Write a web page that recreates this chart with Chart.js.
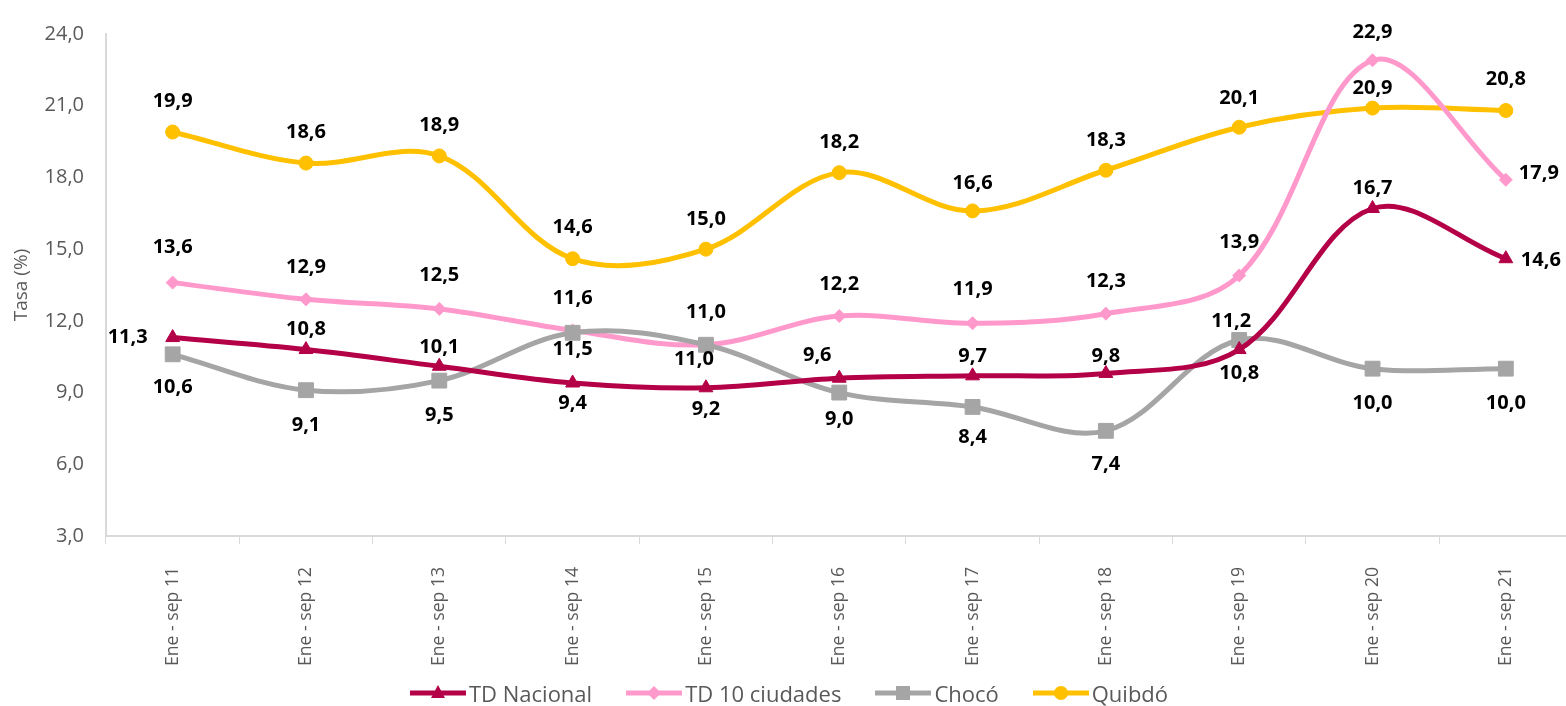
<!DOCTYPE html>
<html lang="es">
<head>
<meta charset="utf-8">
<title>Tasa de desempleo</title>
<script src="https://cdn.jsdelivr.net/npm/chart.js@4.4.1/dist/chart.umd.min.js"></script>
<style>
  html, body { margin: 0; padding: 0; background: #fff; overflow: hidden; }
  #wrap { width: 1584px; height: 706px; position: relative; }
  #legend {
      position: absolute; left: 0; top: 678px; width: 1578px; height: 30px;
      display: flex; justify-content: center; align-items: center; gap: 34px;
      font: 22px 'Open Sans', sans-serif; color: #595959;
  }
  .legend-item { display: flex; align-items: center; white-space: nowrap; }
  .legend-item img { margin-right: 3px; }
</style>
</head>
<body>
<div id="wrap">
    <canvas id="chart"></canvas>
    <div id="legend"></div>
</div>
<script>
// ---- data ----
const categories   = ['Ene - sep 11', 'Ene - sep 12', 'Ene - sep 13', 'Ene - sep 14', 'Ene - sep 15', 'Ene - sep 16',
                      'Ene - sep 17', 'Ene - sep 18', 'Ene - sep 19', 'Ene - sep 20', 'Ene - sep 21'];
const tdNacional   = [11.3, 10.8, 10.1, 9.4, 9.2, 9.6, 9.7, 9.8, 10.8, 16.7, 14.6];
const td10Ciudades = [13.6, 12.9, 12.5, 11.6, 11.0, 12.2, 11.9, 12.3, 13.9, 22.9, 17.9];
const choco        = [10.6, 9.1, 9.5, 11.5, 11.0, 9.0, 8.4, 7.4, 11.2, 10.0, 10.0];
const quibdo       = [19.9, 18.6, 18.9, 14.6, 15.0, 18.2, 16.6, 18.3, 20.1, 20.9, 20.8];
const yMin = 3, yMax = 24, yStep = 3;

// label placement relative to each point [dx, dy] (layout only)
const offNacional = [[-45, 0], [0, -20], [0, -19], [0, 20], [0, 22], [-22, -23], [0, -20], [0, -17], [0, 24], [0, -20], [35, 2]];
const offCiudades = [[0, -35], [0, -32], [0, -34], [0, -32], [0, -32], [0, -32], [0, -34], [0, -32], [0, -33], [0, -28], [33, -7]];
const offChoco    = [[0, 33], [0, 35], [0, 35], [0, 16], [-12, 15], [0, 27], [0, 30], [0, 33], [-8, -19], [0, 35], [0, 35]];
const offQuibdo   = [[0, -31], [0, -31], [0, -31], [0, -31], [0, -30], [0, -30], [0, -28], [0, -30], [0, -29], [0, -20], [0, -31]];

const fmt = v => v.toFixed(1).replace('.', ',');

// little line + marker icon for the legend
function legendIcon(color, shape) {
    const c = document.createElement('canvas');
    c.width = 56; c.height = 20;
    const g = c.getContext('2d');
    g.strokeStyle = color; g.fillStyle = color; g.lineWidth = 5;
    g.beginPath(); g.moveTo(0, 10); g.lineTo(56, 10); g.stroke();
    g.beginPath();
    if (shape === 'triangle') { g.moveTo(28, 2); g.lineTo(35, 15); g.lineTo(21, 15); g.closePath(); }
    else if (shape === 'rectRot') { g.moveTo(28, 3); g.lineTo(35, 10); g.lineTo(28, 17); g.lineTo(21, 10); g.closePath(); }
    else if (shape === 'rect') { g.rect(21, 3, 14, 14); }
    else { g.arc(28, 10, 7, 0, Math.PI * 2); }
    g.fill();
    return c.toDataURL();
}

function series(label, data, color, shape, radius, offsets, order) {
    return {
        label, data, order, offsets,
        borderColor: color, backgroundColor: color,
        borderWidth: 5, tension: 0.35,
        pointStyle: shape, pointRadius: radius, pointHoverRadius: radius,
        pointBackgroundColor: color, pointBorderColor: color, pointBorderWidth: 1,
        clip: false,
    };
}

// data labels
const valueLabels = {
    id: 'valueLabels',
    afterDatasetsDraw(chart) {
        const ctx = chart.ctx;
        ctx.save();
        ctx.font = 'bold 20px "Open Sans"';
        ctx.fillStyle = '#000';
        ctx.textAlign = 'center';
        ctx.textBaseline = 'middle';
        chart.data.datasets.forEach((ds, i) => {
            const meta = chart.getDatasetMeta(i);
            meta.data.forEach((pt, j) => {
                const [dx, dy] = ds.offsets[j];
                ctx.fillText(fmt(ds.data[j]), pt.x + dx, pt.y + dy);
            });
        });
        ctx.restore();
    }
};

const datasets = [
    series('TD Nacional',    tdNacional,   '#b40047', 'triangle', 8,    offNacional, 0),
    series('TD 10 ciudades', td10Ciudades, '#ff99cc', 'rectRot',  6.5,  offCiudades, 2),
    series('Chocó',          choco,        '#a5a5a5', 'rect',     10.5, offChoco,    1),
    series('Quibdó',         quibdo,       '#ffc000', 'circle',   7,    offQuibdo,   3),
];

// legend (html, line + marker)
document.getElementById('legend').innerHTML = datasets.map(ds => `
    <div class="legend-item">
        <img src="${legendIcon(ds.borderColor, ds.pointStyle)}" width="56" height="20" alt="">
        <span>${ds.label}</span>
    </div>`).join('');

new Chart(document.getElementById('chart'), {
    type: 'line',
    data: { labels: categories, datasets },
    plugins: [valueLabels],
    options: {
        responsive: true, maintainAspectRatio: false, animation: false,
        layout: { padding: { top: 33, left: 0, right: 0, bottom: 0 } },
        plugins: {
            tooltip: { enabled: false },
            legend: { display: false },
        },
        scales: {
            x: {
                offset: true,
                grid: { display: true, drawOnChartArea: false, drawTicks: true, tickLength: 8, color: '#d9d9d9', offset: true },
                border: { display: true, color: '#d9d9d9', width: 2 },
                ticks: { color: '#595959', font: { family: 'Open Sans', size: 17.6 }, maxRotation: 90, minRotation: 90, padding: 23, autoSkip: false },
                afterFit: s => { s.height = 170; },
            },
            y: {
                min: yMin, max: yMax,
                grid: { display: true, drawOnChartArea: false, drawTicks: false },
                border: { display: true, color: '#d9d9d9', width: 2 },
                ticks: { stepSize: yStep, padding: 22, color: '#595959', font: { family: 'Open Sans', size: 20 }, callback: v => fmt(v) },
                title: { display: true, text: 'Tasa (%)', color: '#595959', font: { family: 'Open Sans', size: 19 }, padding: { top: 10, bottom: 0 } },
                afterFit: s => { s.width = 106; },
            },
        },
    },
});
</script>
</body>
</html>
